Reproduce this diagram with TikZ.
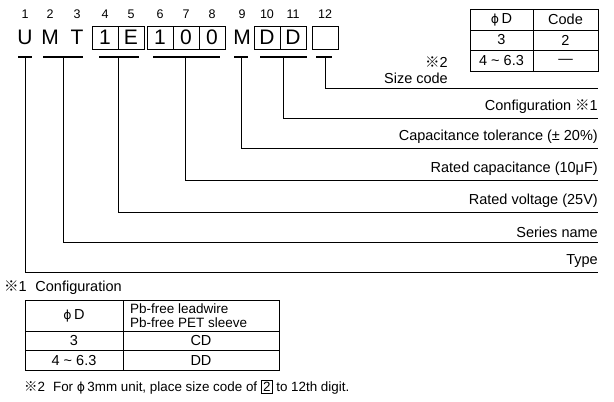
\documentclass[tikz,border=0pt]{standalone}
\usepackage{fontspec}
\setmainfont{Liberation Sans}
\newfontfamily\cjkfont{Noto Sans CJK JP}
\newfontfamily\symfont{DejaVu Sans}
\usepackage{tikz}
\usetikzlibrary{positioning}

\newcommand{\kome}{{\cjkfont ※}}
\newcommand{\phid}{{\symfont\fontsize{12.5}{12}\selectfont ϕ}}

\tikzset{
  digit/.style={font=\fontsize{12.5}{12}\selectfont,inner sep=0pt},
  letter/.style={font=\fontsize{21}{21}\selectfont,inner sep=0pt},
  cell/.style={draw,thin,minimum width=26pt,minimum height=23pt,inner sep=0pt,
    font=\fontsize{21}{21}\selectfont},
  bar/.style={line width=1.8pt},
  leader/.style={line width=0.9pt},
  lbl/.style={font=\fontsize{14.5}{16}\selectfont,anchor=south east,inner sep=0pt},
  txt/.style={font=\fontsize{14.5}{16}\selectfont,inner sep=0pt},
}

\begin{document}
\begin{tikzpicture}[x=1pt,y=-1pt]
\useasboundingbox (0,0) rectangle (614,402);
% digit numbers
\foreach \n/\x in {1/25,2/50,3/77,4/105,5/131,6/160,7/186,8/212,9/242,10/267,11/293,12/325}
  \node[digit] (n\n) at (\x,14) {\n};
% code letters
\node[letter] (cU) at (25,37.5) {U};
\node[letter] (cM) at (50,37.5) {M};
\node[letter] (cT) at (77,37.5) {T};
\node[cell] (c1) at (105,37.5) {1};
\node[cell] (cE) at (131,37.5) {E};
\node[cell] (c10) at (160,37.5) {1};
\node[cell] (c00) at (186,37.5) {0};
\node[cell] (c01) at (212,37.5) {0};
\node[letter] (cTol) at (242,37.5) {M};
\node[cell] (cD1) at (267,37.5) {D};
\node[cell] (cD2) at (293,37.5) {D};
\node[cell] (cSz) at (325,37.5) {};
% underlines
\draw[bar] (18,57)--(32,57) coordinate[midway] (uType);
\draw[bar] (43,57)--(83,57) coordinate[midway] (uSeries);
\draw[bar] (99,57)--(139,57) coordinate[pos=0.475] (uVolt);
\draw[bar] (153,57)--(220,57) coordinate[pos=0.49] (uCap);
\draw[bar] (234,57)--(248,57) coordinate[midway] (uTol);
\draw[bar] (260,57)--(307,57) coordinate[pos=0.49] (uConf);
\draw[bar] (316,57)--(332,57) coordinate[pos=0.56] (uSize);
% line ends
\coordinate (eSize) at (598,88);
\coordinate (eConf) at (598,118);
\coordinate (eTol) at (598,148);
\coordinate (eCap) at (598,180);
\coordinate (eVolt) at (598,212);
\coordinate (eSeries) at (598,242);
\coordinate (eType) at (598,272);
% leaders
\draw[leader] (uSize) |- (eSize);
\draw[leader] (uConf) |- (eConf);
\draw[leader] (uTol) |- (eTol);
\draw[leader] (uCap) |- (eCap);
\draw[leader] (uVolt) |- (eVolt);
\draw[leader] (uSeries) |- (eSeries);
\draw[leader] (uType) |- (eType);
% labels
\node[lbl] (lConf) at ([yshift=4.5pt]eConf) {Configuration \kome1};
\node[lbl] (lTol) at ([yshift=4.5pt]eTol) {Capacitance tolerance (\textpm\ 20\%)};
\node[lbl] (lCap) at ([yshift=4.5pt]eCap) {Rated capacitance (10μF)};
\node[lbl] (lVolt) at ([yshift=4.5pt]eVolt) {Rated voltage (25V)};
\node[lbl] (lSeries) at ([yshift=4.5pt]eSeries) {Series name};
\node[lbl] (lType) at ([yshift=4.5pt]eType) {Type};
\node[txt,anchor=east,align=right] (lSize) at (448,70) {\kome2\\Size code};
% size code table
\draw[thin] (470,9) rectangle (598,71);
\draw[thin] (533,9)--(533,71);
\draw[thin] (470,30)--(598,30);
\draw[thin] (470,50.5)--(598,50.5);
\node[txt] (sD) at (501.5,19.5) {\phid\,D};
\node[txt] (sCode) at (565.5,19.5) {Code};
\node[txt] (s3) at (501.5,40) {3};
\node[txt] (s2) at (565.5,40) {2};
\node[txt] (s4) at (501.5,61) {4 \textasciitilde\ 6.3};
\node[txt] (sDash) at (565.5,61) {—};
% configuration table
\node[txt,anchor=west] (tConf) at (4,288) {\kome1\hspace{0.6em}Configuration};
\draw[thin] (25,300) rectangle (279,370);
\draw[thin] (123,300)--(123,370);
\draw[thin] (25,331)--(279,331);
\draw[thin] (25,350.5)--(279,350.5);
\node[txt] (kD) at (74,315.5) {\phid\,D};
\node[txt,anchor=west,font=\fontsize{13.5}{14}\selectfont] (kPb1) at (130,309) {Pb-free leadwire};
\node[txt,anchor=west,font=\fontsize{13.5}{14}\selectfont] (kPb2) at (130,323) {Pb-free PET sleeve};
\node[txt] (k3) at (74,341) {3};
\node[txt] (kCD) at (201,341) {CD};
\node[txt] (k4) at (74,360.5) {4 \textasciitilde\ 6.3};
\node[txt] (kDD) at (201,360.5) {DD};
% note
\node[txt,anchor=west,font=\fontsize{13.4}{14}\selectfont] (note) at (24,387) {\kome2\hspace{0.6em}For \phid\,3mm unit, place size code of {\setlength{\fboxsep}{1.5pt}\setlength{\fboxrule}{0.6pt}\fbox{2}} to 12th digit.};
\end{tikzpicture}
\end{document}
